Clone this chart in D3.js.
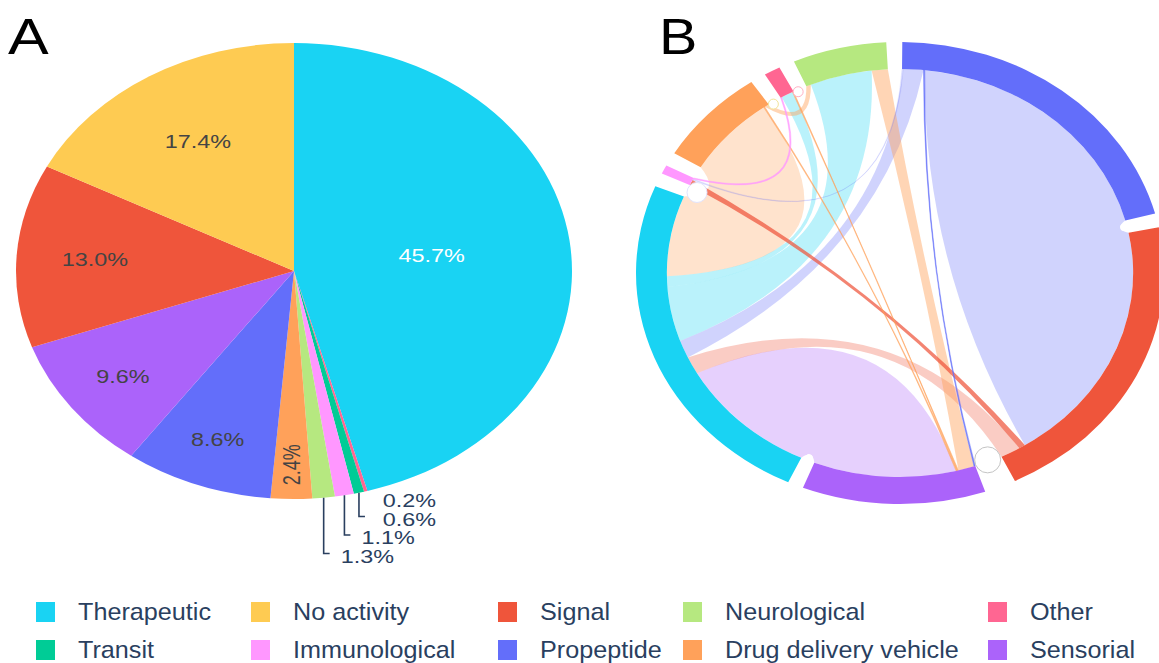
<!DOCTYPE html>
<meta charset="utf-8">
<title>Peptide functions: share and co-occurrence</title>
<body style="margin:0;background:#fff">
<svg width=1159 height=663></svg>
<script src="https://d3js.org/d3.v7.min.js"></script>
<script>
    // ---------------- data ----------------
    const categories = ['Therapeutic', 'No activity', 'Signal', 'Neurological', 'Other',
                        'Transit', 'Immunological', 'Propeptide', 'Drug delivery vehicle', 'Sensorial'];
    const colors = ['#19D3F3', '#FECB52', '#EF553B', '#B6E880', '#FF6692',
                    '#00CC96', '#FF97FF', '#636EFA', '#FFA15A', '#AB63FA'];

    // pie A, clockwise from 12 o'clock (percent)
    const pieOrder = ['Therapeutic', 'Other', 'Transit', 'Immunological', 'Neurological',
                      'Drug delivery vehicle', 'Propeptide', 'Sensorial', 'Signal', 'No activity'];
    const pieShare = [45.7, 0.2, 0.6, 1.1, 1.3, 2.4, 8.6, 9.6, 13.0, 17.4];

    // chord B, groups clockwise from 12 o'clock
    const chordOrder = ['Propeptide', 'Signal', 'Transit', 'Sensorial', 'Therapeutic',
                        'Immunological', 'Drug delivery vehicle', 'Other', 'Neurological'];
    // co-occurrence links [a, b, weight]
    const links = [
        ['Propeptide', 'Signal', 69],
        ['Propeptide', 'Therapeutic', 5],
        ['Propeptide', 'Sensorial', 0.3],
        ['Propeptide', 'Immunological', 0.3],
        ['Signal', 'Immunological', 1.6],
        ['Signal', 'Therapeutic', 5],
        ['Sensorial', 'Therapeutic', 35.5],
        ['Sensorial', 'Neurological', 4],
        ['Sensorial', 'Drug delivery vehicle', 0.3],
        ['Sensorial', 'Other', 0.3],
        ['Therapeutic', 'Neurological', 15.5],
        ['Therapeutic', 'Other', 3],
        ['Therapeutic', 'Drug delivery vehicle', 23],
        ['Immunological', 'Other', 0.3],
        ['Drug delivery vehicle', 'Neurological', 1.2]
    ];

    // ---------------- setup ----------------
    const svg = d3.select('svg');
    const font = "'Liberation Sans', Arial, sans-serif";
    const colour = Object.fromEntries(categories.map((c, i) => [c, colors[i]]));
    const rad = Math.PI / 180;

    // stretched text helper (the figure is wider than tall)
    function label(g, x, y, txt, size, sx, fill, anchor, rot) {
        return g.append('text')
            .attr('transform', `translate(${x},${y}) scale(${sx},1)` + (rot ? ` rotate(${rot})` : ''))
            .attr('text-anchor', anchor || 'middle')
            .attr('dominant-baseline', 'central')
            .style('font-family', font)
            .style('font-size', size + 'px')
            .attr('fill', fill)
            .text(txt);
    }

    // ---------------- A : pie ----------------
    const pieCx = 294, pieCy = 271, pieRx = 278, pieRy = 228;
    const pieData = d3.pie().sort(null).value(d => d.v)(pieOrder.map((c, i) => ({c: c, v: pieShare[i]})));

    svg.append('g')
        .attr('transform', `translate(${pieCx},${pieCy}) scale(${pieRx / pieRy},1)`)
        .selectAll('path')
        .data(pieData)
        .join('path')
        .attr('d', d3.arc().innerRadius(0).outerRadius(pieRy))
        .attr('fill', d => colour[d.data.c]);

    const onPie = (a, f) => [pieCx + pieRx * f * Math.sin(a), pieCy - pieRy * f * Math.cos(a)];
    const midA = d => (d.startAngle + d.endAngle) / 2;

    const insideR = {'Therapeutic': 0.5, 'No activity': 0.665, 'Signal': 0.718,
                     'Sensorial': 0.769, 'Propeptide': 0.79, 'Drug delivery vehicle': 0.85};
    const pieText = svg.append('g');
    pieData.filter(d => insideR[d.data.c]).forEach(d => {
        const p = onPie(midA(d), insideR[d.data.c]);
        const small = d.data.v < 3;
        label(pieText, p[0], p[1], d.data.v.toFixed(1) + '%', 18, 1.3,
              d.data.c === 'Therapeutic' ? '#fff' : '#444', 'middle', small ? -90 : 0);
    });

    // outside labels with leader lines
    const outside = pieData.filter(d => !insideR[d.data.c]);
    let prevX = 0;
    outside.forEach((d, i) => {
        const e = onPie(midA(d), 1);
        const ly = 501 + 18.5 * i;
        if (ly - 3 - e[1] > 10) {
            pieText.append('path')
                .attr('d', `M${e[0]},${e[1]}V${ly - 3}h6`)
                .attr('fill', 'none')
                .attr('stroke', '#2a3f5f')
                .attr('stroke-width', 1.6);
        }
        // the first two labels share a column
        const lx = i === 1 ? prevX : e[0] + 17;
        prevX = lx;
        label(pieText, lx, ly, d.data.v.toFixed(1) + '%', 18, 1.3, '#2a3f5f', 'start');
    });

    // ---------------- B : chord ----------------
    const cx = 900, cy = 273, rOut = 231, rIn = 204, sx = 264 / 231, startDeg = 0.5;

    const totals = {};
    chordOrder.forEach(c => totals[c] = 0);
    links.forEach(([a, b, v]) => { totals[a] += v; totals[b] += v; });
    const pad = (360 - d3.sum(chordOrder, c => totals[c])) / chordOrder.length;

    const groups = {};
    let ang = startDeg;
    chordOrder.forEach(c => {
        groups[c] = {start: ang, end: ang + totals[c]};
        groups[c].mid = (groups[c].start + groups[c].end) / 2;
        ang += totals[c] + pad;
    });

    // place link ends inside each group so ribbons do not cross
    const ends = links.map(() => ({}));
    chordOrder.forEach(c => {
        const g = groups[c];
        const mine = [];
        links.forEach(([a, b, v], i) => {
            if (a === c) mine.push({i: i, other: b, v: v});
            else if (b === c) mine.push({i: i, other: a, v: v});
        });
        mine.forEach(m => m.off = (groups[m.other].mid - g.mid + 360) % 360);
        mine.sort((p, q) => q.off - p.off);
        let a0 = g.start;
        mine.forEach(m => { ends[m.i][c] = [a0, a0 + m.v]; a0 += m.v; });
    });

    const pt = (deg, r) => [r * Math.sin(deg * rad), -r * Math.cos(deg * rad)];
    function ctrl(x, y) {
        const diff = ((y - x + 540) % 360) - 180;
        const k = Math.max(0.1, 1 - Math.abs(diff) / 60);
        return pt(x + diff / 2, k * rIn);
    }
    function ribbon(sa, ta) {
        const p = d3.path();
        const s0 = pt(sa[0], rIn), t0 = pt(ta[0], rIn);
        p.moveTo(s0[0], s0[1]);
        p.arc(0, 0, rIn, (sa[0] - 90) * rad, (sa[1] - 90) * rad);
        let c = ctrl(sa[1], ta[0]);
        p.quadraticCurveTo(c[0], c[1], t0[0], t0[1]);
        p.arc(0, 0, rIn, (ta[0] - 90) * rad, (ta[1] - 90) * rad);
        c = ctrl(ta[1], sa[0]);
        p.quadraticCurveTo(c[0], c[1], s0[0], s0[1]);
        p.closePath();
        return p.toString();
    }

    const linkStyle = {
        'Propeptide|Signal': ['Propeptide', 0.3],
        'Propeptide|Therapeutic': ['Propeptide', 0.3],
        'Propeptide|Sensorial': ['Propeptide', 0.85],
        'Propeptide|Immunological': ['Propeptide', 0.2],
        'Signal|Immunological': ['Signal', 0.72],
        'Signal|Therapeutic': ['Signal', 0.3],
        'Sensorial|Therapeutic': ['Sensorial', 0.3],
        'Sensorial|Neurological': ['Drug delivery vehicle', 0.45],
        'Sensorial|Drug delivery vehicle': ['Drug delivery vehicle', 0.7],
        'Sensorial|Other': ['Drug delivery vehicle', 0.7],
        'Therapeutic|Neurological': ['Therapeutic', 0.3],
        'Therapeutic|Other': ['Therapeutic', 0.3],
        'Therapeutic|Drug delivery vehicle': ['Drug delivery vehicle', 0.3],
        'Immunological|Other': ['Immunological', 0.8],
        'Drug delivery vehicle|Neurological': ['Drug delivery vehicle', 0.45]
    };
    const styleOf = i => linkStyle[links[i][0] + '|' + links[i][1]];

    const gB = svg.append('g').attr('transform', `translate(${cx},${cy}) scale(${sx},1)`);

    const order = d3.range(links.length).sort((i, j) => links[j][2] - links[i][2]);
    gB.append('g').selectAll('path')
        .data(order)
        .join('path')
        .attr('d', i => ribbon(ends[i][links[i][0]], ends[i][links[i][1]]))
        .attr('fill', i => colour[styleOf(i)[0]])
        .attr('fill-opacity', i => styleOf(i)[1])
        .attr('stroke', i => links[i][2] < 1 ? colour[styleOf(i)[0]] : 'none')
        .attr('stroke-opacity', i => styleOf(i)[1])
        .attr('stroke-width', 0.6)
        .attr('vector-effect', 'non-scaling-stroke');

    // ideogram ring
    const ringArc = d3.arc().innerRadius(rIn).outerRadius(rOut);
    gB.append('g').selectAll('path')
        .data(chordOrder.filter(c => totals[c] > 0))
        .join('path')
        .attr('d', c => ringArc({startAngle: groups[c].start * rad, endAngle: groups[c].end * rad}))
        .attr('fill', c => colour[c]);

    // round white separators between groups, and small self loops
    const scr = (deg, r) => { const p = pt(deg, r); return [cx + sx * p[0], cy + p[1]]; };
    const gaps = chordOrder.filter(c => totals[c] > 0).map(c => groups[c].end + pad / 2);
    const sep = svg.append('g');
    gaps.forEach(gd => {
        const a = scr(gd, rIn - 3), b = scr(gd, rOut + 4);
        sep.append('line')
            .attr('x1', a[0]).attr('y1', a[1]).attr('x2', b[0]).attr('y2', b[1])
            .attr('stroke', '#fff').attr('stroke-width', 7).attr('stroke-linecap', 'round');
    });
    const loops = [
        [groups['Transit'].mid, rIn - 2, 13, '#c4c4c4'],
        [groups['Immunological'].start - pad / 3, rIn - 9, 10, '#e2e3fc'],
        [groups['Drug delivery vehicle'].end + 1, rIn - 2, 5, '#f2e49a'],
        [groups['Other'].end + 1, rIn - 2, 5, '#ffb0c4']
    ];
    loops.forEach(([gd, rr, r, st]) => {
        const p = scr(gd, rr);
        sep.append('circle')
            .attr('cx', p[0]).attr('cy', p[1]).attr('r', r)
            .attr('fill', '#fff').attr('stroke', st).attr('stroke-width', 1);
    });

    // ---------------- panel letters ----------------
    label(svg, 8, 37, 'A', 50, 1.22, '#000', 'start');
    label(svg, 659, 36, 'B', 50, 1.15, '#000', 'start');

    // ---------------- legend ----------------
    const legX = [36, 251, 498, 683, 988];
    const legY = [612, 650];
    const leg = svg.append('g');
    categories.forEach((c, i) => {
        const x = legX[i % 5], y = legY[Math.floor(i / 5)];
        leg.append('rect')
            .attr('x', x).attr('y', y - 10).attr('width', 19).attr('height', 20)
            .attr('fill', colour[c]);
        label(leg, x + 42, y, c, 24, 1.05, '#2a3f5f', 'start');
    });
</script>
